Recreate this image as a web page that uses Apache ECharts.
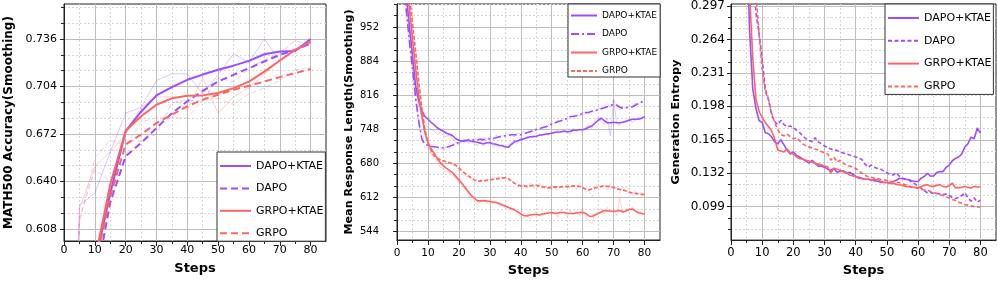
<!DOCTYPE html>
<html><head><meta charset="utf-8">
<script src="https://cdn.jsdelivr.net/npm/echarts@6/dist/echarts.min.js"></script>
<style>html,body{margin:0;padding:0;background:#fff}#c{width:997px;height:282px}</style>
</head><body><div id="c"></div>
<script>
// ---------------- DATA ----------------
const seriesNames = ['DAPO+KTAE', 'DAPO', 'GRPO+KTAE', 'GRPO'];
const xTickLabels = [0, 10, 20, 30, 40, 50, 60, 70, 80];

// Panel 1 : MATH500 accuracy, every 5 steps
const steps5 = [0,5,10,15,20,25,30,35,40,45,50,55,60,65,70,75,80];
const acc_DAPO_KTAE = [0.45,0.52,0.585,0.632,0.674,0.687,0.698,0.7036,0.7085,0.712,0.7152,0.718,0.7212,0.7257,0.7275,0.7279,0.736];
const acc_DAPO      = [0.44,0.50,0.570,0.626,0.657,0.666,0.676,0.686,0.694,0.701,0.7074,0.7118,0.7163,0.7208,0.7253,0.7286,0.733];
const acc_GRPO_KTAE = [0.45,0.52,0.587,0.638,0.674,0.684,0.6917,0.696,0.6977,0.698,0.6996,0.7029,0.7073,0.714,0.7215,0.7286,0.7342];
const acc_GRPO      = [0.44,0.51,0.582,0.630,0.665,0.6716,0.6794,0.685,0.6906,0.6951,0.6984,0.7018,0.7045,0.7073,0.7103,0.713,0.7157];
const accRaw_DAPO_KTAE = [0.20,0.624,0.632,0.660,0.686,0.690,0.708,0.7125,0.7125,0.699,0.712,0.726,0.720,0.736,0.721,0.7286,0.733];
const accRaw_DAPO      = [0.20,0.615,0.648,0.640,0.668,0.667,0.672,0.693,0.695,0.694,0.710,0.707,0.716,0.722,0.726,0.735,0.731];
const accRaw_GRPO_KTAE = [0.20,0.622,0.650,0.660,0.672,0.690,0.697,0.697,0.688,0.710,0.686,0.697,0.703,0.712,0.722,0.728,0.733];
const accRaw_GRPO      = [0.20,0.612,0.656,0.668,0.664,0.680,0.683,0.683,0.683,0.695,0.696,0.692,0.699,0.703,0.708,0.715,0.717];
const accTicks = [0.608, 0.640, 0.672, 0.704, 0.736];

// Panels 2 & 3 : every step
const steps1 = [0,1,2,3,4,5,6,7,8,9,10,11,12,13,14,15,16,17,18,19,20,21,22,23,24,25,26,27,28,29,30,31,32,33,34,35,36,37,38,39,40,41,42,43,44,45,46,47,48,49,50,51,52,53,54,55,56,57,58,59,60,61,62,63,64,65,66,67,68,69,70,71,72,73,74,75,76,77,78,79,80];

const len_DAPO_KTAE = [1200,1140,1080,1015,955,895,835,805,785,774,768,
  762,757,751,747,744,740,738,735,729,726,
  724,725,726,724,723,722,720,719,721,721,
  719,718,716,715,713,712,718,723,725,727,
  729,731,733,733,734,736,737,738,739,740,
  742,742,743,744,743,744,746,746,747,747,
  749,752,755,760,766,770,765,761,761,762,
  761,761,762,764,766,768,768,768,770,773];
const len_DAPO = [1180,1110,1040,985,925,870,812,765,730,718,716,
  714,713,712,711,711,712,714,716,719,722,
  724,725,726,726,727,727,728,727,728,729,
  730,731,733,734,735,736,737,737,737,737,
  739,741,743,745,747,749,751,753,755,758,
  761,763,765,767,770,773,774,775,777,779,
  781,782,784,785,787,789,791,793,796,797,
  796,792,790,791,792,793,796,799,802,806];
const len_GRPO_KTAE = [1200,1150,1100,1050,990,930,870,815,776,742,722,
  710,700,690,681,675,670,666,661,654,647,
  640,632,624,616,610,605,605,605,605,604,
  603,602,600,597,595,592,590,587,583,579,
  576,575,577,578,578,577,579,580,581,582,
  580,581,582,582,580,580,580,581,582,582,
  580,575,574,577,580,583,586,585,585,584,
  585,586,583,585,588,589,585,582,580,579];
const len_GRPO = [1220,1170,1110,1060,1015,960,905,845,792,748,722,
  706,696,690,687,685,683,681,679,676,671,
  665,660,655,651,647,644,645,645,646,647,
  648,649,650,651,651,649,645,640,637,635,
  635,634,635,636,636,635,633,632,631,632,
  633,632,633,634,633,634,635,635,634,632,
  628,627,629,631,632,634,635,634,634,632,
  629,628,627,625,623,621,620,619,618,618];
const lenRaw_DAPO_KTAE = [1200,1140,1075,1010,950,890,830,795,775,760,752,
  748,745,738,742,735,733,738,728,722,718,
  726,728,720,724,719,716,722,715,720,724,
  714,716,712,718,710,714,722,726,720,731,
  728,734,730,737,732,738,735,741,737,743,
  740,746,741,747,742,738,750,744,749,745,
  752,756,750,766,772,764,758,770,735,808,
  760,756,765,760,770,762,766,772,768,776];
const lenRaw_DAPO = [1180,1110,1035,980,920,865,805,760,728,712,708,
  716,709,706,712,704,714,709,718,722,716,
  728,722,730,724,732,726,722,731,728,734,
  726,736,730,738,734,740,736,733,741,738,
  744,740,748,744,752,748,754,750,758,762,
  758,766,762,770,766,775,770,778,774,780,
  784,778,786,782,792,788,794,800,790,805,
  798,786,794,788,796,790,800,798,804,810];
const lenRaw_GRPO_KTAE = [1200,1150,1095,1045,985,925,865,810,770,740,715,
  702,690,684,672,670,664,662,655,650,642,
  636,628,618,610,603,598,604,612,600,606,
  598,604,596,600,590,594,586,590,580,572,
  570,580,568,578,584,574,582,576,586,578,
  584,572,588,580,574,586,578,584,576,590,
  574,564,560,578,586,590,580,592,582,588,
  576,610,580,590,584,592,586,580,584,578];
const lenRaw_GRPO = [1220,1170,1105,1055,1010,955,900,840,788,745,718,
  702,692,686,682,684,680,682,676,672,668,
  662,656,650,648,640,642,648,644,650,646,
  654,648,656,650,654,644,648,638,634,632,
  638,630,640,634,626,640,630,636,624,638,
  630,626,636,628,640,630,636,628,640,630,
  622,626,612,632,640,630,636,628,640,626,
  632,620,634,624,622,618,626,616,622,614];
const lenTicks = [544, 612, 680, 748, 816, 884, 952];

const ent_DAPO_KTAE = [0.60,0.55,0.50,0.45,0.42,0.37,0.27,0.215,0.196,0.184,0.182,
  0.172,0.171,0.168,0.163,0.161,0.165,0.160,0.155,0.151,0.153,
  0.1496,0.148,0.146,0.144,0.142,0.1448,0.142,0.139,0.139,0.138,
  0.136,0.135,0.1367,0.133,0.134,0.1345,0.132,0.133,0.131,0.1286,
  0.128,0.127,0.126,0.126,0.125,0.1247,0.124,0.123,0.1228,0.1228,
  0.123,0.1238,0.125,0.127,0.1265,0.126,0.1255,0.1245,0.1238,0.1239,
  0.1272,0.1288,0.132,0.129,0.1294,0.1326,0.1336,0.1336,0.1378,0.140,
  0.1443,0.1466,0.148,0.1508,0.1579,0.1611,0.1676,0.166,0.1766,0.1715];
const ent_DAPO = [0.70,0.65,0.60,0.55,0.50,0.45,0.40,0.34,0.29,0.27,0.245,
  0.215,0.205,0.19,0.183,0.18,0.184,0.18,0.178,0.1786,0.177,
  0.1745,0.172,0.169,0.166,0.1645,0.163,0.167,0.163,0.161,0.159,
  0.157,0.156,0.155,0.1544,0.153,0.152,0.151,0.150,0.149,0.148,
  0.147,0.1454,0.141,0.138,0.140,0.138,0.1367,0.136,0.134,0.1325,
  0.131,0.1302,0.1325,0.129,0.127,0.126,0.1254,0.123,0.1215,0.119,
  0.1173,0.115,0.1126,0.113,0.112,0.112,0.1115,0.111,0.1115,0.110,
  0.108,0.107,0.108,0.110,0.1126,0.1077,0.1045,0.1077,0.1035,0.1054];
const ent_GRPO_KTAE = [0.62,0.57,0.52,0.47,0.42,0.36,0.305,0.245,0.205,0.193,0.187,
  0.182,0.178,0.174,0.166,0.155,0.154,0.153,0.156,0.152,0.151,
  0.148,0.1464,0.146,0.1448,0.144,0.143,0.1415,0.141,0.140,0.139,
  0.1383,0.132,0.137,0.136,0.135,0.1335,0.133,0.1302,0.1295,0.1286,
  0.127,0.1265,0.126,0.126,0.1254,0.1255,0.126,0.124,0.123,0.1228,
  0.122,0.122,0.121,0.1206,0.120,0.119,0.1188,0.1183,0.118,0.1175,
  0.119,0.120,0.1207,0.119,0.119,0.120,0.1207,0.119,0.1184,0.1197,
  0.1223,0.1175,0.1178,0.118,0.119,0.118,0.1175,0.119,0.1184,0.1184];
const ent_GRPO = [0.64,0.60,0.56,0.52,0.48,0.44,0.40,0.35,0.31,0.27,0.235,
  0.212,0.205,0.192,0.182,0.175,0.170,0.169,0.1706,0.168,0.166,
  0.167,0.164,0.161,0.159,0.158,0.157,0.156,0.155,0.1535,0.152,
  0.1512,0.1448,0.148,0.143,0.1448,0.142,0.140,0.139,0.1383,0.1367,
  0.134,0.132,0.130,0.1286,0.128,0.127,0.1265,0.126,0.1255,0.1247,
  0.124,0.1238,0.123,0.1228,0.1215,0.1206,0.1195,0.1183,0.118,0.1173,
  0.116,0.1155,0.115,0.114,0.113,0.112,0.1109,0.110,0.1086,0.1075,
  0.106,0.105,0.1034,0.1025,0.1012,0.1005,0.0998,0.0993,0.0988,0.0986];
const entTicks = [0.099, 0.132, 0.165, 0.198, 0.231, 0.264, 0.297];

// ---------------- STYLE / LAYOUT ----------------
const FONT = 'DejaVu Sans';
const PURPLE = '#9b4dff', RED = '#ff6464';
const MAJOR = '#bdbdbd', MINOR = '#d6d6d6', AXIS = '#222';

function minorsOf(majors, sub, lo, hi) {
  const d = majors[1] - majors[0], out = [];
  for (let k = -1; k < majors.length; k++) {
    for (let j = 1; j < sub; j++) {
      const v = majors[0] + k * d + j * d / sub;
      if (v > lo + 1e-9 && v < hi - 1e-9) out.push(+v.toFixed(6));
    }
  }
  return out;
}
const xMinor = minorsOf(xTickLabels, 2, 0, 85);

const panels = [
  { grid: {left: 64, top: 4, width: 262, height: 237},
    yMin: 0.6, yMax: 0.7595, yTicks: accTicks, dec: 3, yFs: 11, yMargin: 7,
    yName: 'MATH500 Accuracy(Smoothing)', yNameFs: 12, yNameGap: 49,
    xFs: 11, xMargin: 4, xNameGap: 21,
    legend: {left: 217, top: 152, padding: [7, 2, 1, 2], itemGap: 8.4, itemWidth: 31, itemHeight: 14, lh: 14, fs: 11} },
  { grid: {left: 397, top: 4, width: 263, height: 237.5},
    yMin: 527, yMax: 998, yTicks: lenTicks, dec: 0, yFs: 10, yMargin: 18,
    yName: 'Mean Response Length(Smoothing)', yNameFs: 11.2, yNameGap: 42,
    xFs: 10.5, xMargin: 8, xNameGap: 24,
    legend: {left: 568, top: 4, padding: [6.5, 3, 1, 2], itemGap: 8.5, itemWidth: 26, itemHeight: 10, lh: 10, fs: 9} },
  { grid: {left: 731, top: 4, width: 265, height: 241},
    yMin: 0.066, yMax: 0.299, yTicks: entTicks, dec: 3, yFs: 12, yMargin: 6,
    yName: 'Generation Entropy', yNameFs: 11.3, yNameGap: 49,
    xFs: 11.5, xMargin: 7, xNameGap: 21,
    legend: {left: 885, top: 4, padding: [7, 2, 1, 2], itemGap: 8.8, itemWidth: 31, itemHeight: 14, lh: 14, fs: 11} }
];

const grids = [], xAxes = [], yAxes = [], legends = [], series = [];
panels.forEach((p, g) => {
  grids.push(Object.assign({show: true, borderColor: AXIS, borderWidth: 1, backgroundColor: 'transparent'}, p.grid));
  xAxes.push({
    type: 'value', gridIndex: g, min: 0, max: 85, position: 'bottom',
    name: 'Steps', nameLocation: 'middle', nameGap: p.xNameGap,
    nameTextStyle: {fontFamily: FONT, fontSize: 13, fontWeight: 'bold', color: '#000'},
    axisLine: {show: true, lineStyle: {color: AXIS, width: 1}},
    axisTick: {show: true, inside: false, length: 5, customValues: xTickLabels, lineStyle: {color: AXIS}},
    axisLabel: {show: true, customValues: xTickLabels, margin: p.xMargin, fontFamily: FONT, fontSize: p.xFs, color: '#000'},
    splitLine: {show: true, lineStyle: {color: MAJOR, width: 1}}
  }, {
    type: 'value', gridIndex: g, min: 0, max: 85, position: 'bottom',
    axisLine: {show: false},
    axisTick: {show: true, inside: false, length: 3, customValues: xMinor, lineStyle: {color: AXIS}},
    axisLabel: {show: false},
    splitLine: {show: true, lineStyle: {color: MINOR, width: 1, type: [2, 2]}}
  });
  const yMinor = minorsOf(p.yTicks, 3, p.yMin, p.yMax);
  yAxes.push({
    type: 'value', gridIndex: g, min: p.yMin, max: p.yMax, position: 'left',
    name: p.yName, nameLocation: 'middle', nameRotate: 90, nameGap: p.yNameGap,
    nameTextStyle: {fontFamily: FONT, fontSize: p.yNameFs, fontWeight: 'bold', color: '#000'},
    axisLine: {show: true, lineStyle: {color: AXIS, width: 1}},
    axisTick: {show: true, inside: false, length: 4, customValues: p.yTicks, lineStyle: {color: AXIS}},
    axisLabel: {show: true, customValues: p.yTicks, margin: p.yMargin, fontFamily: FONT, fontSize: p.yFs, color: '#000',
      formatter: v => Number(v).toFixed(p.dec)},
    splitLine: {show: true, lineStyle: {color: MAJOR, width: 1}}
  }, {
    type: 'value', gridIndex: g, min: p.yMin, max: p.yMax, position: 'left',
    axisLine: {show: false},
    axisTick: {show: true, inside: false, length: 3, customValues: yMinor, lineStyle: {color: AXIS}},
    axisLabel: {show: false},
    splitLine: {show: true, lineStyle: {color: MINOR, width: 1, type: [2, 2]}}
  });
  const L = p.legend;
  legends.push({
    orient: 'vertical', left: L.left, top: L.top, padding: L.padding, itemGap: L.itemGap,
    itemWidth: L.itemWidth, itemHeight: L.itemHeight, selectedMode: false,
    backgroundColor: '#fff', borderColor: '#333', borderWidth: 1, borderRadius: 0,
    itemStyle: {opacity: 0},
    textStyle: {fontFamily: FONT, fontSize: L.fs, lineHeight: L.lh, color: '#000'},
    data: seriesNames.map(n => n + '#' + g),
    formatter: n => n.split('#')[0]
  });
});

function line(name, g, xs, ys, color, width, type, opacity, z) {
  return {
    type: 'line', name: name, xAxisIndex: 2 * g, yAxisIndex: 2 * g,
    data: xs.map((x, i) => [x, ys[i]]),
    symbol: 'none', showSymbol: false, clip: true, silent: true, z: z,
    lineStyle: {color: color, width: width, type: type, opacity: opacity},
    itemStyle: {color: color}, emphasis: {disabled: true}
  };
}

// Panel 1
series.push(
  line('raw1a', 0, steps5, accRaw_DAPO_KTAE, PURPLE, 1, 'solid', 0.32, 2),
  line('raw1b', 0, steps5, accRaw_DAPO, PURPLE, 1, [5, 3], 0.32, 2),
  line('raw1c', 0, steps5, accRaw_GRPO_KTAE, RED, 1, 'solid', 0.3, 2),
  line('raw1d', 0, steps5, accRaw_GRPO, RED, 1, [5, 3], 0.3, 2),
  line('DAPO+KTAE#0', 0, steps5, acc_DAPO_KTAE, PURPLE, 2, 'solid', 1, 3),
  line('DAPO#0', 0, steps5, acc_DAPO, PURPLE, 2, [7, 4], 1, 3),
  line('GRPO+KTAE#0', 0, steps5, acc_GRPO_KTAE, RED, 2, 'solid', 1, 3),
  line('GRPO#0', 0, steps5, acc_GRPO, RED, 2, [7, 4], 1, 3)
);
// Panel 2
series.push(
  line('raw2a', 1, steps1, lenRaw_DAPO_KTAE, PURPLE, 1, 'solid', 0.3, 2),
  line('raw2b', 1, steps1, lenRaw_DAPO, PURPLE, 1, [4, 2], 0.3, 2),
  line('raw2c', 1, steps1, lenRaw_GRPO_KTAE, RED, 1, 'solid', 0.28, 2),
  line('raw2d', 1, steps1, lenRaw_GRPO, RED, 1, [4, 2], 0.28, 2),
  line('DAPO+KTAE#1', 1, steps1, len_DAPO_KTAE, PURPLE, 1.6, 'solid', 1, 3),
  line('DAPO#1', 1, steps1, len_DAPO, PURPLE, 1.6, [8, 3, 2, 3], 1, 3),
  line('GRPO+KTAE#1', 1, steps1, len_GRPO_KTAE, RED, 1.6, 'solid', 1, 3),
  line('GRPO#1', 1, steps1, len_GRPO, RED, 1.6, [4, 2], 1, 3)
);
// Panel 3
series.push(
  line('DAPO+KTAE#2', 2, steps1, ent_DAPO_KTAE, PURPLE, 1.6, 'solid', 1, 3),
  line('DAPO#2', 2, steps1, ent_DAPO, PURPLE, 1.6, [4, 2.5], 1, 3),
  line('GRPO+KTAE#2', 2, steps1, ent_GRPO_KTAE, RED, 1.6, 'solid', 1, 3),
  line('GRPO#2', 2, steps1, ent_GRPO, RED, 1.6, [4, 2.5], 1, 3)
);

const chart = echarts.init(document.getElementById('c'), null, {renderer: 'canvas'});
chart.setOption({
  animation: false, backgroundColor: '#fff',
  grid: grids, xAxis: xAxes, yAxis: yAxes, legend: legends, series: series
});
</script></body></html>
